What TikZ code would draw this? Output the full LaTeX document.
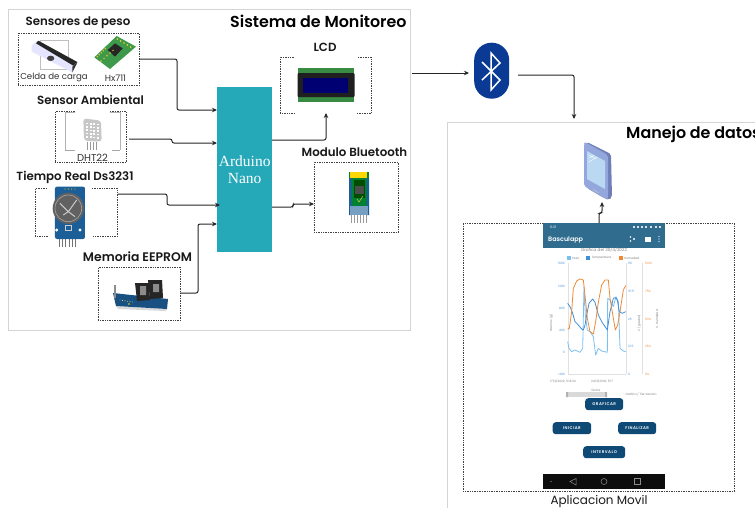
\documentclass[tikz,border=0pt]{standalone}
\usepackage{fontspec}
\setmainfont{Poppins}[BoldFont={Poppins SemiBold}]
\newfontfamily\serifnano{Liberation Serif}
\usetikzlibrary{arrows.meta}
\definecolor{teal1}{HTML}{25A8B8}
\definecolor{btblue}{HTML}{0A3A94}
\definecolor{frameg}{HTML}{D4D4D4}
\definecolor{uiblue}{HTML}{0E4A75}
\definecolor{hdr}{HTML}{2F6C8E}
\definecolor{pcbg}{HTML}{3E9A4A}
\definecolor{rtcb}{HTML}{1C5F98}
\definecolor{lb}{HTML}{7CC0F2}
\definecolor{db}{HTML}{3F8ED8}
\definecolor{org}{HTML}{EE8A36}
\definecolor{phside}{HTML}{6F80B8}
\definecolor{phbody}{HTML}{93A7DC}
\definecolor{phscreen}{HTML}{BBD8F2}
\tikzset{
  framebox/.style={draw=frameg,line width=1.3pt,fill=white,anchor=north west,inner sep=0pt},
  dbox/.style={draw=black!75,densely dotted,line width=.7pt,anchor=north west,inner sep=0pt},
  ttl/.style={font=\fontsize{11.8}{13}\selectfont\bfseries,text=black!90,inner sep=0pt},
  captxt/.style={font=\fontsize{8.6}{10}\selectfont,text=black!80,inner sep=0pt},
  conn/.style={line width=1pt,rounded corners=2pt,black!85,-{Stealth[length=5pt,width=4.5pt]}},
  uibtn/.style={fill=uiblue,rounded corners=3pt,text=white,inner sep=0pt,font=\fontsize{4}{5}\selectfont\bfseries\addfontfeature{LetterSpace=12}},
  ticklbl/.style={font=\fontsize{3}{4}\selectfont,inner sep=0pt,text=#1},
  ticklbl/.default=black!50
}
\begin{document}
\begin{tikzpicture}[x=1pt,y=-1pt]
\useasboundingbox (0,0) rectangle (755,507);
\clip (0,0) rectangle (755,507);
\fill[white] (0,0) rectangle (755,507);
% frames
\node[framebox,minimum width=402pt,minimum height=321pt] (mon) at (8,9) {};
\node[framebox,minimum width=340pt,minimum height=420pt] (dat) at (447,122) {};
\node[font=\fontsize{15.9}{18}\selectfont\bfseries,anchor=west,inner sep=0pt] (tmon) at (230,21) {Sistema de Monitoreo};
\node[font=\fontsize{15.9}{18}\selectfont\bfseries,anchor=west,inner sep=0pt] (tdat) at (626,134) {Manejo de datos};
% dashed boxes
\node[dbox,minimum width=121pt,minimum height=52pt] (peso) at (18,33) {};
\node[dbox,minimum width=71pt,minimum height=51pt] (amb) at (55,111) {};
\node[dbox,minimum width=82pt,minimum height=48pt] (rtc) at (35,188) {};
\node[dbox,minimum width=82pt,minimum height=53pt] (eep) at (98,267) {};
\node[dbox,minimum width=91pt,minimum height=56pt] (lcd) at (280,57) {};
\node[dbox,minimum width=84pt,minimum height=70pt] (blu) at (314,162) {};
\node[dbox,minimum width=271pt,minimum height=268pt] (app) at (463,223) {};
% white image backgrounds that interrupt dashed borders
\fill[white] (295,54) rectangle (357,116);
\fill[white] (48,185) rectangle (92,239);
% titles
\node[ttl] (t1) at (78,23) {Sensores de peso};
\node[ttl] (t2) at (90.5,100) {Sensor Ambiental};
\node[ttl] (t3) at (75,177) {Tiempo Real Ds3231};
\node[ttl,font=\fontsize{12.4}{14}\selectfont\bfseries] (t4) at (137.5,257) {Memoria EEPROM};
\node[ttl] (t5) at (325,47) {LCD};
\node[ttl] (t6) at (354.5,152) {Modulo Bluetooth};
\node[captxt] (c1) at (54,77) {Celda de carga};
\node[captxt,font=\fontsize{9}{10}\selectfont] (c2) at (115.5,78) {Hx711};
\node[captxt,font=\fontsize{10}{11}\selectfont] (c3) at (92.5,158) {DHT22};
\node[captxt,font=\fontsize{12}{14}\selectfont,text=black!90] (c4) at (599,501) {Aplicacion Movil};
% Arduino
\node[fill=teal1,minimum width=55pt,minimum height=165pt,anchor=north west,inner sep=0pt,
  align=center,text=white,font=\fontsize{15.5}{16.5}\selectfont\serifnano] (ard) at (217,87) {Arduino\\Nano};
% load cell
\begin{scope}[x=1/3pt,y=-1/3pt]
\draw[black!25,line width=.7pt] (120,122) rectangle (205,208);
\fill[blue!10] (95,137) -- (112,122) -- (232,188) -- (217,217) -- (95,155) -- cycle;
\fill[black!85] (115,122) -- (232,186) -- (220,197) -- (108,130) -- cycle;
\fill[black!80] (217,217) -- (232,188) -- (220,197) -- (217,200) -- cycle;
\fill[black!75] (152,175) ellipse (11 and 8);
% HX711
\fill[pcbg] (283,172) -- (350,108) -- (408,140) -- (330,207) -- cycle;
\fill[black!85] (323,150) -- (345,130) -- (368,145) -- (345,170) -- cycle;
\foreach \i in {0,...,4}{
  \fill[yellow!60!brown] (352+\i*10,117+\i*6) circle (2.8);
  \fill[yellow!60!brown] (292+\i*6,170-\i*6) circle (2.5);
  \fill[yellow!60!brown] (303+\i*9,183-\i*8) circle (2.5);
}
% DHT22 brackets
\draw[black!30,line width=.6pt] (195,450) -- (195,338) -- (360,338) -- (360,450);
\fill[white] (225,330) rectangle (330,460);
\draw[black!35,line width=.9pt] (195,450) -- (225,450) (335,450) -- (360,450);
\foreach \x in {263,272,281,290}{\draw[black!40,line width=.7pt] (\x,425) -- (\x,450);}
\fill[black!22,rounded corners=3pt] (250,355) -- (303,362) -- (305,425) -- (252,422) -- cycle;
\foreach \r in {0,...,4}{\foreach \c in {0,...,3}{\fill[white] (258+\c*11,368+\r*10+\c) rectangle +(6,5);}}
\end{scope}
% RTC
\begin{scope}[shift={(0,165)},x=1/3pt,y=-1/3pt]
\fill[rtcb,rounded corners=2pt] (165,65) rectangle (255,222);
\foreach \x in {195,205,215,225}{\fill[yellow!70!black] (\x,72) circle (2);}
\fill[black!62] (205,130) circle (47);
\draw[black!35,line width=.6pt] (205,130) circle (40);
\draw[black!20,line width=1pt] (180,115) -- (205,140) -- (230,105) (190,150) -- (205,140) -- (225,155);
\fill[white] (170,195) circle (5) (240,195) circle (5);
\draw[white!80!black,line width=.6pt] (197,180) rectangle (213,195);
\foreach \x in {177,187,197,207,217,227}{\draw[black!55,line width=.8pt] (\x,222) -- (\x,247);}
\end{scope}
% EEPROM
\fill[black!15] (116,306) -- (167,309) -- (166,311) -- (118,309) -- cycle;
\fill[rtcb!85!black] (113,293) -- (168,299) -- (167,309) -- (116,306) -- cycle;
\foreach \i in {0,...,5}{\fill[yellow!60!white] (120+\i*2.5,300+\i*.4) circle (.45);}
\fill[yellow!70!orange] (129,304) circle (.8);
\draw[black!45,line width=1.6pt] (115,285) -- (115,298);
\fill[black!85] (135,283) -- (149,283) -- (150,300) -- (137,301) -- cycle;
\fill[black!85] (148,280) -- (162,280) -- (163,298) -- (150,299) -- cycle;
\fill[black!45] (140,286) rectangle (146,295) (153,284) rectangle (159,292);
% LCD image
\fill[pcbg!90!black] (298,68) rectangle (354,102);
\fill[black!88,rounded corners=1pt] (297.5,73) rectangle (354.5,97);
\fill[blue!45!black] (303,78) rectangle (348,93);
% Bluetooth module
\fill[teal!55!green!70!black] (349,172) rectangle (369,215);
\fill[yellow!75!orange] (350,172) rectangle (367,178);
\fill[rtcb] (349,178) rectangle (351.5,215) (366.5,178) rectangle (369,215);
\fill[black!70!green] (354,180) rectangle (365,198);
\fill[black!70] (355,186) rectangle (364,194);
\draw[yellow!60!brown,line width=.5pt] (357,199) -- (359,202) -- (363,196);
\fill[rtcb!60!white] (350,206) rectangle (368,215);
\foreach \x in {351,354,357,360,363,366}{\draw[black!40,line width=.5pt] (\x,215) -- (\x,223);}
% Bluetooth badge
\node[fill=btblue,rounded corners=17.4pt,minimum width=35pt,minimum height=56pt,inner sep=0pt,anchor=north west] (bt) at (474,42.5) {};
\draw[white,line width=1.5pt,line join=miter] (482,62) -- (500,80) -- (491,90) -- (491,53) -- (500,63) -- (482,80);
% phone
\fill[phside,rounded corners=2pt] (587,142) -- (611,154) -- (612,197) -- (609,200) -- (604,198) -- (587,188) -- cycle;
\fill[phbody,rounded corners=2pt] (584,144) -- (585,142) -- (608,155) -- (608,199) -- (606,199) -- (584,186) -- cycle;
\fill[phscreen] (587,151) -- (605,161) -- (605,189) -- (587,179) -- cycle;
\fill[phside!60!white,rounded corners=.5pt] (593,188.5) -- (599,192) -- (599,194) -- (593,190.5) -- cycle;
\draw[white,line width=.4pt] (589,155) -- (596,158.5) (589,158) -- (594,155.5) (589,162) -- (597,157);
% app
\node[fill=hdr,minimum width=122pt,minimum height=25pt,anchor=north west,inner sep=0pt] (hd) at (543,223) {};
\node[font=\fontsize{6.4}{8}\selectfont\bfseries,text=white,anchor=west,inner sep=0pt] (hdt) at (548,239.5) {Basculapp};
\node[font=\fontsize{3.4}{4}\selectfont,text=white,anchor=west,inner sep=0pt] (hds) at (550,227) {6:21};
\fill[white] (634,239) circle (1.1) (630.5,241) circle (.9) (630.5,237) circle (.9);
\fill[white] (645,236.5) rectangle (651,242);
\fill[white] (659,236.5) circle (.6) (659,239) circle (.6) (659,241.5) circle (.6);
\foreach \x in {633,637,641,645,650,655,659}{\fill[white!80!hdr] (\x,225.8) rectangle +(2,2);}
\node[font=\fontsize{4.2}{5}\selectfont,text=black!50,inner sep=0pt] (gt) at (604,250) {Grafica del 30/4/2022};
\fill[lb] (566.5,256) rectangle +(4,4);
\fill[db] (586,256) rectangle +(4,4);
\fill[org] (618.5,256) rectangle +(4,4);
\node[ticklbl,anchor=west] (l1) at (572,258) {Peso};
\node[ticklbl,anchor=west] (l2) at (591.5,258) {Temperatura};
\node[ticklbl,anchor=west] (l3) at (624,258) {Humedad};
% axes
\draw[black!12,line width=.4pt] (568,263) -- (568,374) (626,263) -- (626,374) (642,263) -- (642,374) (568,374) -- (626,374);
\foreach \y/\t in {263/1600,286/1200,308/800,330/400,352/0,374/-400}{\node[ticklbl=db,anchor=east] at (565,\y) {\t};}
\foreach \y/\t in {263/50,291/37.5,319/25,346/12.5,374/0}{\node[ticklbl=db,anchor=west] at (628,\y) {\t};}
\foreach \y/\t in {263/100\%,291/75\%,319/50\%,346/25\%,374/0\%}{\node[ticklbl=org,anchor=west] at (645,\y) {\t};}
\node[ticklbl,rotate=90] (ya) at (551,323) {Gramos (g)};
\node[ticklbl,rotate=90] (yb) at (639,323) {C (grados)};
\node[ticklbl,rotate=90] (yc) at (657,319) {\% Humedad};
\node[ticklbl] (d1) at (563,381) {17/4/2022, 5:14:34};
\node[ticklbl] (d2) at (602,381) {24/4/2022, 5:17};
\begin{scope}[shift={(530,215)},x=1/3pt,y=-1/3pt]
\draw[lb,line width=.8pt,line join=round] (113,380) -- (117,400) -- (125,410) -- (135,405) -- (150,412) -- (158,400) -- (162,215) -- (166,300) -- (172,345) -- (180,350) -- (190,365) -- (197,420) -- (205,400) -- (215,408) -- (232,412) -- (233,250) -- (240,255) -- (250,275) -- (258,245) -- (265,260) -- (270,400) -- (280,408) -- (287,410);
\draw[db,line width=.8pt,line join=round] (113,265) -- (120,275) -- (128,295) -- (135,320) -- (145,330) -- (155,342) -- (160,345) -- (165,330) -- (170,300) -- (177,265) -- (188,252) -- (195,262) -- (205,300) -- (215,320) -- (232,345) -- (240,290) -- (250,250) -- (257,248) -- (262,255) -- (268,290) -- (277,295) -- (287,290);
\draw[org,line width=.8pt,line join=round] (113,343) -- (118,340) -- (125,290) -- (130,220) -- (140,198) -- (150,192) -- (160,195) -- (167,260) -- (172,310) -- (180,350) -- (190,357) -- (197,320) -- (205,262) -- (215,210) -- (225,195) -- (235,195) -- (240,250) -- (250,310) -- (256,345) -- (263,330) -- (270,290) -- (280,225) -- (287,212);
\end{scope}
\node[ticklbl] (fe) at (596,390) {fecha};
\fill[black!15] (566,392) rectangle (607,397);
\fill[black!30] (566,392) rectangle (568,397) (605,392) rectangle (607,397);
\node[ticklbl] (fv) at (641,394) {Grafica / Tile Version};
% buttons
\node[uibtn,minimum width=38pt,minimum height=12pt,anchor=north west] (b1) at (585,398) {GRAFICAR};
\node[uibtn,minimum width=38.5pt,minimum height=12pt,anchor=north west] (b2) at (552.5,422) {INICIAR};
\node[uibtn,minimum width=38pt,minimum height=12pt,anchor=north west] (b3) at (618,422) {FINALIZAR};
\node[uibtn,minimum width=42pt,minimum height=12pt,anchor=north west] (b4) at (583,446) {INTERVALO};
% navbar
\node[fill=black!95,minimum width=122pt,minimum height=15pt,anchor=north west,inner sep=0pt] (nav) at (543,474) {};
\fill[white!60!black] (551,481.5) circle (.7);
\draw[black!45,line width=.5pt] (576,478.5) -- (570,481.5) -- (576,485) -- cycle;
\draw[black!45,line width=.5pt] (604,481.5) circle (3);
\draw[black!45,line width=.5pt] (634,478.5) rectangle (640,484.5);
% connector ends
\coordinate (p1) at (139,59);
\coordinate (a1) at (217,110);
\coordinate (p2) at (129,139);
\coordinate (a2) at (217,143);
\coordinate (p3) at (118,194);
\coordinate (a3) at (220,205);
\coordinate (p4) at (180,293);
\coordinate (a4) at (217,224);
\coordinate (o1) at (272,140);
\coordinate (i1) at (326,113);
\coordinate (o2) at (272,207);
\coordinate (i2) at (314,204);
\coordinate (m1) at (412,73);
\coordinate (bl) at (469,73);
\coordinate (br) at (518,75);
\coordinate (di) at (574,119);
\coordinate (ht) at (599,223);
\coordinate (ph) at (602,202);
\draw[conn] (p1) -- (177,59) -- (177,110) -- (a1);
\draw[conn] (p2) -- (172,139) -- (172,143) -- (a2);
\draw[conn] (p3) -- (167,194) -- (167,205) -- (a3);
\draw[conn] (p4) -- (198,293) -- (198,224) -- (a4);
\draw[conn] (o1) -- (326,140) -- (i1);
\draw[conn] (o2) -- (293,207) -- (293,204) -- (i2);
\draw[conn] (m1) -- (bl);
\draw[conn] (br) -- (574,75) -- (di);
\draw[conn] (ht) -- (599,213) -- (602,213) -- (ph);
\end{tikzpicture}
\end{document}
